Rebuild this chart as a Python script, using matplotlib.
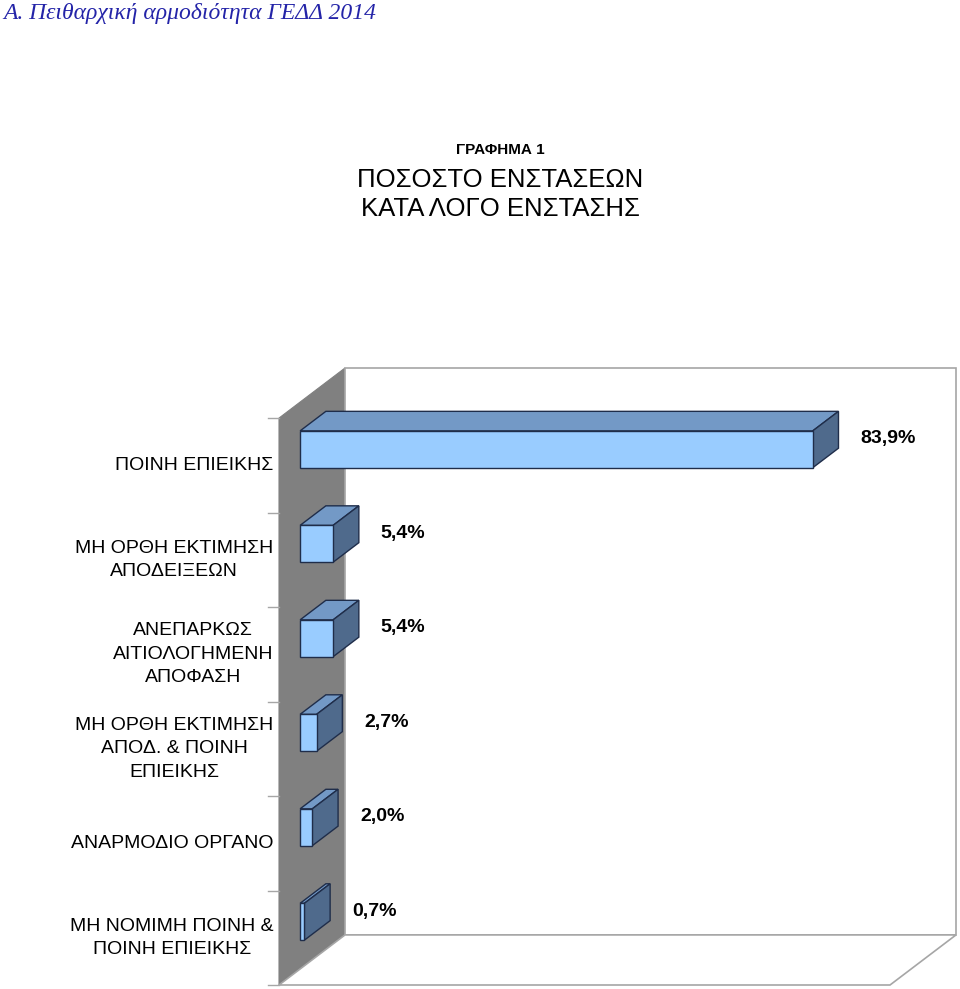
import matplotlib
matplotlib.use('Agg')
import matplotlib.pyplot as plt
from matplotlib.patches import Polygon

# data (bottom to top)
categories = ['ΜΗ ΝΟΜΙΜΗ ΠΟΙΝΗ &\nΠΟΙΝΗ ΕΠΙΕΙΚΗΣ',
              'ΑΝΑΡΜΟΔΙΟ ΟΡΓΑΝΟ',
              'ΜΗ ΟΡΘΗ ΕΚΤΙΜΗΣΗ\nΑΠΟΔ. & ΠΟΙΝΗ\nΕΠΙΕΙΚΗΣ',
              'ΑΝΕΠΑΡΚΩΣ\nΑΙΤΙΟΛΟΓΗΜΕΝΗ\nΑΠΟΦΑΣΗ',
              'ΜΗ ΟΡΘΗ ΕΚΤΙΜΗΣΗ\nΑΠΟΔΕΙΞΕΩΝ',
              'ΠΟΙΝΗ ΕΠΙΕΙΚΗΣ']
values = [0.7, 2.0, 2.7, 5.4, 5.4, 83.9]
value_labels = ['0,7%', '2,0%', '2,7%', '5,4%', '5,4%', '83,9%']

plt.rcParams['font.family'] = ['Liberation Sans', 'DejaVu Sans']

fig = plt.figure(figsize=(9.6, 9.89), dpi=100)

# 3d depth offsets in data units
DX = 10.8
DY = 0.53
n = len(categories)
xmax = 100

ax = fig.add_axes([279 / 960, 4 / 989, 677 / 960, 617 / 989])
ax.set_xlim(0, xmax + DX)
ax.set_ylim(0, n + DY)
ax.axis('off')

wall_edge = '#a6a6a6'
# side wall
ax.add_patch(Polygon([(0, 0), (DX, DY), (DX, n + DY), (0, n)], closed=True,
                     facecolor='#808080', edgecolor='#808080', lw=0.8, clip_on=False, zorder=1))
# back wall
ax.add_patch(Polygon([(DX, DY), (xmax + DX, DY), (xmax + DX, n + DY), (DX, n + DY)], closed=True,
                     facecolor='white', edgecolor=wall_edge, lw=1.2, clip_on=False, zorder=1))
# floor
ax.add_patch(Polygon([(0, 0), (DX, DY), (xmax + DX, DY), (xmax, 0)], closed=True,
                     facecolor='white', edgecolor=wall_edge, lw=1.2, clip_on=False, zorder=1))

# category tick marks
for k in range(n + 1):
    ax.plot([-1.8, 0], [k, k], color=wall_edge, lw=1, clip_on=False, zorder=2)

# bars
t0, t1 = 0.32, 0.71
ddx = (t1 - t0) * DX
ddy = (t1 - t0) * DY
edge = '#1f2d4a'
for i, v in enumerate(values):
    x0 = t0 * DX
    x1 = x0 + v
    y0 = i + 0.305 + t0 * DY
    y1 = i + 0.695 + t0 * DY
    ax.add_patch(Polygon([(x0, y1), (x1, y1), (x1 + ddx, y1 + ddy), (x0 + ddx, y1 + ddy)],
                         closed=True, facecolor='#7399c6', edgecolor=edge, lw=1, zorder=3))
    ax.add_patch(Polygon([(x1, y0), (x1 + ddx, y0 + ddy), (x1 + ddx, y1 + ddy), (x1, y1)],
                         closed=True, facecolor='#4f6a8c', edgecolor=edge, lw=1, zorder=3))
    ax.add_patch(Polygon([(x0, y0), (x1, y0), (x1, y1), (x0, y1)],
                         closed=True, facecolor='#99ccff', edgecolor=edge, lw=1, zorder=4))
    ax.text(v + t1 * DX + 3.6, i + 0.78, value_labels[i], ha='left', va='center',
            fontsize=14, fontweight='bold', zorder=5)
    ax.text(-0.9, i + 0.5, categories[i], ha='right', va='center', multialignment='center',
            fontsize=14, linespacing=1.5, clip_on=False)

# titles
fig.text(0.521, 1 - 150 / 989, 'ΓΡΑΦΗΜΑ 1', ha='center', va='center', fontsize=11, fontweight='bold')
fig.text(0.521, 1 - 180 / 989, 'ΠΟΣΟΣΤΟ ΕΝΣΤΑΣΕΩΝ', ha='center', va='center', fontsize=18.5)
fig.text(0.521, 1 - 209 / 989, 'ΚΑΤΑ ΛΟΓΟ ΕΝΣΤΑΣΗΣ', ha='center', va='center', fontsize=18.5)

fig.text(3 / 960, 1 - 13 / 989, 'Α. Πειθαρχική αρμοδιότητα ΓΕΔΔ 2014', ha='left', va='center',
         fontsize=17, style='italic', color='#2424a8', family=['Liberation Serif', 'DejaVu Serif'])

fig.savefig('out.png', dpi=100)
